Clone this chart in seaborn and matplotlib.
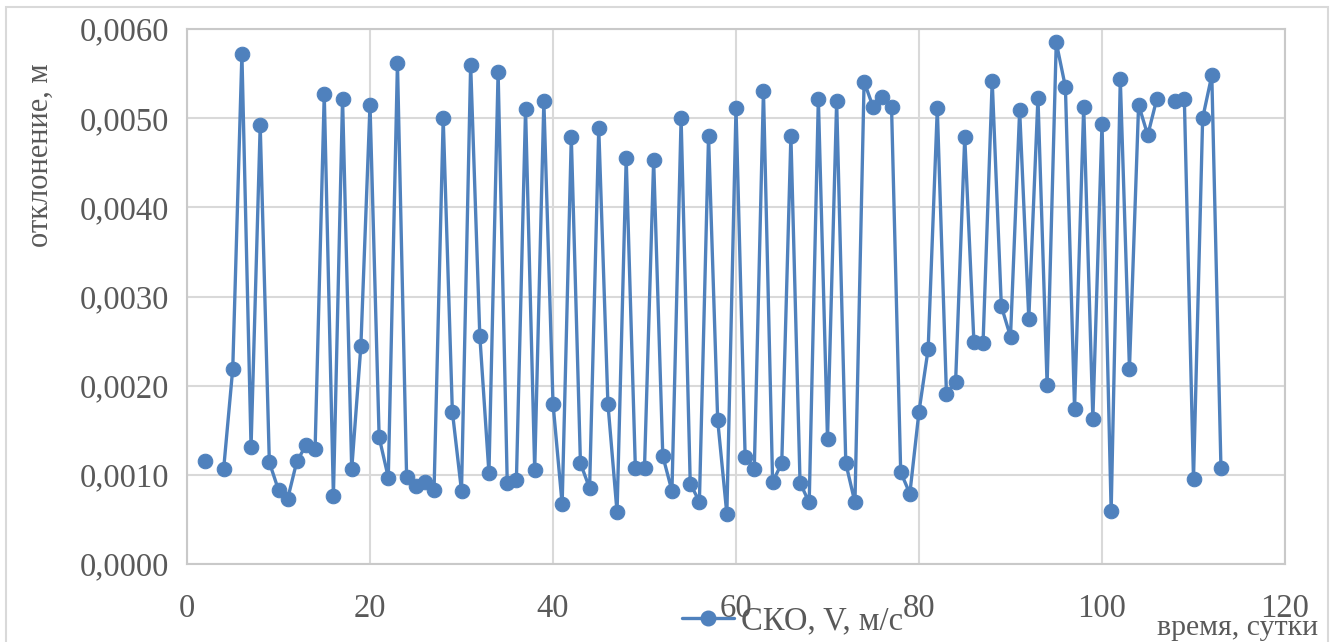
import numpy as np
import pandas as pd
import matplotlib
matplotlib.use("Agg")
import matplotlib.pyplot as plt
from matplotlib.lines import Line2D
from matplotlib.patches import Rectangle
from matplotlib.ticker import FuncFormatter, MultipleLocator
import seaborn as sns

# Суточные значения СКО скорости (м), пропуски — дни без измерений
days = list(range(2, 114))
sko = [
    0.00115, np.nan, 0.00106, 0.00219, 0.00572, 0.00131, 0.00492, 0.00114, 0.00083, 0.00073,
    0.00115, 0.00133, 0.00129, 0.00527, 0.00076, 0.00522, 0.00106, 0.00244, 0.00515, 0.00142,
    0.00097, 0.00562, 0.00098, 0.00087, 0.00092, 0.00083, 0.00500, 0.00171, 0.00082, 0.00560,
    0.00256, 0.00102, 0.00552, 0.00091, 0.00094, 0.00510, 0.00105, 0.00519, 0.00180, 0.00067,
    0.00479, 0.00113, 0.00085, 0.00489, 0.00180, 0.00058, 0.00455, 0.00108, 0.00108, 0.00453,
    0.00121, 0.00082, 0.00500, 0.00090, 0.00070, 0.00480, 0.00161, 0.00056, 0.00511, 0.00120,
    0.00107, 0.00531, 0.00092, 0.00113, 0.00480, 0.00091, 0.00069, 0.00522, 0.00140, 0.00519,
    0.00113, 0.00069, 0.00541, 0.00512, 0.00524, 0.00512, 0.00103, 0.00079, 0.00171, 0.00241,
    0.00511, 0.00191, 0.00204, 0.00479, 0.00249, 0.00248, 0.00542, 0.00289, 0.00255, 0.00509,
    0.00275, 0.00523, 0.00201, 0.00585, 0.00535, 0.00174, 0.00513, 0.00163, 0.00494, 0.00059,
    0.00544, 0.00219, 0.00515, 0.00481, 0.00522, np.nan, 0.00519, 0.00521, 0.00095, 0.00500,
    0.00548, 0.00108,
]
series_name = "СКО, V, м/с"
x_title = "время, сутки"
y_title = "отклонение, м"

df = pd.DataFrame({"day": days, "sko": sko})
# split the series into continuous pieces so the gaps stay open
df["segment"] = df["sko"].isna().cumsum()
df = df.dropna()

BLUE = "#4F81BD"
GREY_TXT = "#595959"
GRID = "#D9D9D9"

sns.set_theme(style="white")
plt.rcParams["font.family"] = ["Liberation Serif", "DejaVu Serif"]

fig = plt.figure(figsize=(13.39, 6.42), dpi=100)
ax = fig.add_axes([187 / 1339, 1 - 564 / 642, (1285 - 187) / 1339, (564 - 29) / 642])

sns.lineplot(
    data=df, x="day", y="sko", units="segment", estimator=None,
    color=BLUE, linewidth=2.4, marker="o", markersize=10.5,
    markeredgecolor=BLUE, markerfacecolor=BLUE, ax=ax, legend=False,
)

ax.set_xlim(0, 120)
ax.set_ylim(0, 0.006)
ax.xaxis.set_major_locator(MultipleLocator(20))
ax.yaxis.set_major_locator(MultipleLocator(0.001))
ax.yaxis.set_major_formatter(FuncFormatter(lambda v, p: f"{v:.4f}".replace(".", ",")))
ax.xaxis.set_major_formatter(FuncFormatter(lambda v, p: f"{v:.0f}"))
ax.grid(True, color=GRID, linewidth=1.5)
ax.set_axisbelow(True)
for s in ax.spines.values():
    s.set_color("#C9C9C9")
    s.set_linewidth(1.5)
ax.tick_params(axis="both", length=0, labelsize=23.5, colors=GREY_TXT)
ax.tick_params(axis="y", pad=13)
ax.tick_params(axis="x", pad=21)
ax.set_xlabel("")
ax.set_ylabel("")

fig.text(40 / 1339, 1 - 155 / 642, y_title, rotation=90, ha="center", va="center",
         fontsize=22, color=GREY_TXT)
fig.text(1318 / 1339, 1 - 628 / 642, x_title, ha="right", va="center",
         fontsize=21.5, color=GREY_TXT)

handle = Line2D([0], [0], color=BLUE, linewidth=2.4, marker="o", markersize=10.5)
fig.legend(handles=[handle], labels=[series_name], loc="center left",
           bbox_to_anchor=(682 / 1339, 1 - 621 / 642), frameon=False,
           fontsize=23.5, handlelength=1.6, handletextpad=0.2,
           borderpad=0, borderaxespad=0, labelcolor=GREY_TXT)

# chart-area border
fig.add_artist(Rectangle((6 / 1339, -0.1), (1328 - 6) / 1339, (642 - 7) / 642 + 0.1,
                         transform=fig.transFigure, fill=False,
                         edgecolor=GRID, linewidth=1.5))

fig.savefig("out.png", dpi=100)
